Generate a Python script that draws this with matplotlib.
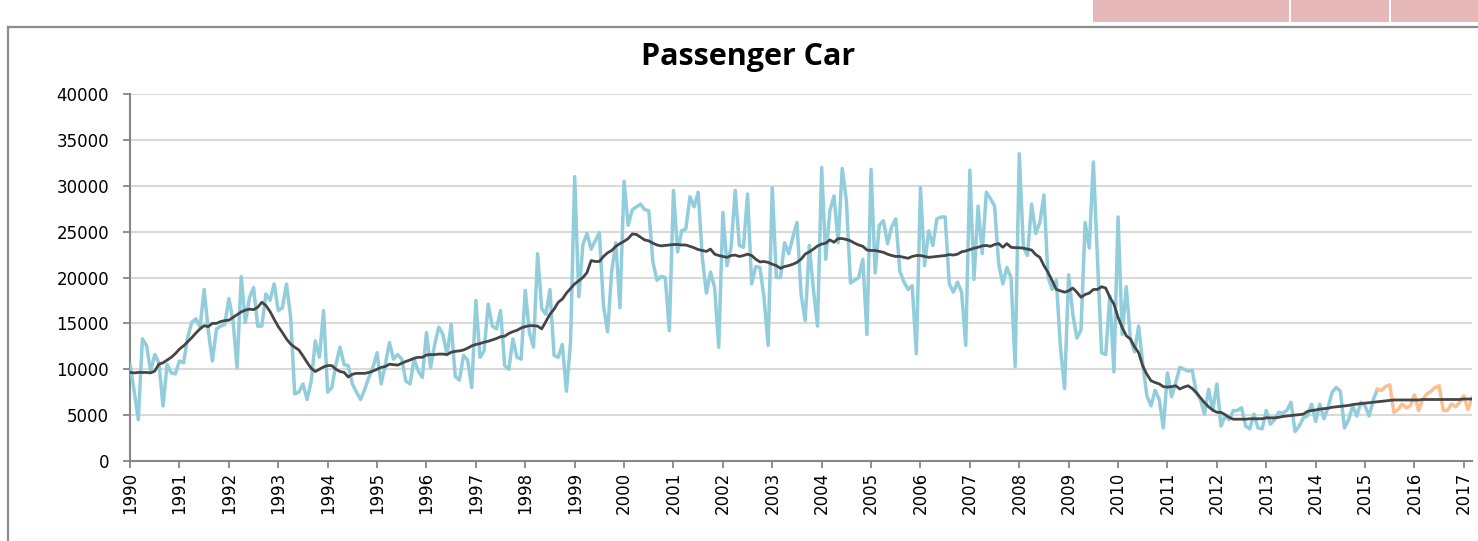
import matplotlib
matplotlib.use("Agg")
import matplotlib.pyplot as plt
from matplotlib.lines import Line2D
from matplotlib.patches import Rectangle
import numpy as np

# monthly registrations, Jan 1990 .. Apr 2015 (actual)
actual = [
    10500, 7600, 4500, 13300, 12600, 9800, 11600, 10700, 6000, 10500, 9600, 9500,        # 1990
    10900, 10700, 13500, 15100, 15500, 14600, 18700, 14200, 10900, 14400, 14700, 14900,  # 1991
    17700, 15300, 10200, 20100, 15100, 17800, 18900, 14700, 14700, 18200, 17500, 19300,  # 1992
    16400, 16700, 19300, 15700, 7300, 7500, 8400, 6700, 8700, 13100, 11300, 16400,       # 1993
    7500, 8000, 10500, 12400, 10500, 10400, 8400, 7500, 6700, 7800, 9100, 10200,         # 1994
    11800, 8400, 10500, 12900, 11100, 11600, 11100, 8700, 8400, 11100, 9800, 9100,       # 1995
    14000, 10200, 12700, 14600, 13800, 11600, 14900, 9200, 8800, 11500, 11000, 8000,     # 1996
    17500, 11300, 12000, 17100, 14700, 14400, 16400, 10400, 10000, 13300, 11300, 11100,  # 1997
    18600, 14000, 12400, 22600, 16600, 16000, 18700, 11500, 11300, 12700, 7600, 13000,   # 1998
    31000, 17900, 23600, 24800, 23100, 24000, 24900, 16900, 14100, 20700, 23800, 16700,  # 1999
    30500, 25700, 27400, 27700, 28000, 27400, 27300, 21700, 19700, 20100, 20000, 14200,  # 2000
    29500, 22800, 25100, 25300, 28800, 27700, 29300, 22200, 18300, 20600, 18900, 12400,  # 2001
    27100, 21300, 23300, 29500, 23500, 23300, 29100, 19300, 21200, 21100, 17800, 12600,  # 2002
    29800, 20000, 20000, 23800, 22600, 24400, 26000, 18200, 15300, 23500, 18700, 14700,  # 2003
    32000, 22000, 27300, 28900, 23800, 31900, 28400, 19400, 19700, 20000, 22000, 13800,  # 2004
    31800, 20500, 25700, 26200, 23700, 25500, 26400, 20700, 19500, 18700, 19100, 11700,  # 2005
    29800, 21300, 25100, 23500, 26400, 26600, 26600, 19300, 18400, 19500, 18400, 12600,  # 2006
    31700, 19800, 27800, 22600, 29300, 28600, 27800, 21500, 19300, 21100, 20000, 10300,  # 2007
    33500, 23300, 22400, 28000, 24800, 26000, 29000, 20000, 18700, 19700, 12400, 7900,   # 2008
    20300, 16000, 13400, 14300, 26000, 23200, 32600, 22000, 11800, 11600, 18000, 9700,   # 2009
    26600, 13800, 19000, 13300, 11900, 14700, 10600, 7100, 6000, 7700, 6700, 3600,       # 2010
    9600, 7000, 8500, 10200, 10000, 9800, 9900, 7500, 6700, 5100, 7800, 5500,            # 2011
    8400, 3800, 4900, 4500, 5500, 5500, 5800, 3800, 3500, 5100, 3600, 3500,              # 2012
    5500, 4000, 4500, 5300, 5200, 5500, 6400, 3200, 3800, 4700, 4900, 6200,              # 2013
    4300, 6200, 4600, 5800, 7500, 8000, 7600, 3600, 4500, 6000, 4900, 6400,              # 2014
    6000, 4900, 6700, 7800,                                                              # 2015
]

# forecast, Apr 2015 .. Mar 2017
forecast = [
    7800, 7700, 8100, 8300, 5300, 5600, 6200, 5800, 6000,
    7200, 5500, 6700, 7300, 7600, 8000, 8200, 5500, 5500, 6200, 5900, 6400,
    7100, 5600, 6900,
]

# trend line, Jan 1990 .. Mar 2017
trend = [
    9650, 9600, 9650, 9650, 9650, 9600, 9800, 10550, 10700, 11000, 11300, 11700,
    12200, 12550, 13000, 13450, 13950, 14400, 14750, 14650, 15000, 15000, 15200, 15300,
    15350, 15650, 15950, 16250, 16450, 16550, 16500, 16750, 17300, 16950, 16300, 15450,
    14650, 14000, 13300, 12750, 12400, 12100, 11450, 10750, 10100, 9750, 10000, 10250,
    10400, 10400, 10000, 9750, 9650, 9150, 9450, 9550, 9550, 9550, 9650, 9800,
    10000, 10200, 10300, 10550, 10500, 10450, 10650, 10850, 11000, 11200, 11300, 11300,
    11550, 11600, 11600, 11650, 11650, 11600, 11850, 11950, 12000, 12100, 12300, 12550,
    12700, 12800, 12950, 13050, 13200, 13350, 13550, 13600, 13900, 14100, 14250, 14500,
    14650, 14750, 14750, 14700, 14400, 15200, 16000, 16550, 17300, 17650, 18300, 18800,
    19300, 19650, 20000, 20550, 21850, 21750, 21750, 22300, 22700, 22950, 23400, 23700,
    23950, 24250, 24750, 24700, 24400, 24100, 24000, 23750, 23550, 23450, 23500, 23550,
    23600, 23600, 23550, 23550, 23400, 23250, 23050, 22950, 22850, 23100, 22550, 22400,
    22300, 22200, 22400, 22450, 22300, 22400, 22550, 22400, 22000, 21700, 21750, 21650,
    21450, 21300, 21000, 21200, 21300, 21450, 21650, 22000, 22550, 22800, 23100, 23450,
    23650, 23750, 24100, 23850, 24250, 24250, 24150, 24000, 23750, 23550, 23400, 23000,
    22950, 22950, 22850, 22750, 22550, 22400, 22300, 22300, 22200, 22100, 22300, 22400,
    22400, 22300, 22200, 22250, 22300, 22350, 22400, 22500, 22450, 22550, 22800, 22900,
    23050, 23200, 23300, 23450, 23500, 23400, 23600, 23700, 23300, 23700, 23300, 23250,
    23250, 23200, 23100, 23000, 22500, 22200, 21300, 20550, 19650, 18700, 18550, 18400,
    18550, 18850, 18400, 17850, 18150, 18300, 18700, 18700, 19000, 18850, 17850, 17100,
    15650, 14550, 13650, 13300, 12450, 11800, 10350, 9450, 8750, 8550, 8400, 8100,
    8050, 8100, 8200, 7850, 8050, 8200, 7900, 7450, 6900, 6350, 5900, 5550,
    5300, 5300, 5050, 4750, 4550, 4550, 4550, 4550, 4600, 4600, 4600, 4600,
    4700, 4700, 4700, 4750, 4850, 4900, 4950, 5000, 5050, 5100, 5400, 5500,
    5550, 5650, 5700, 5750, 5850, 5900, 5950, 6000, 6050, 6150, 6200, 6250,
    6300, 6350, 6400, 6450, 6500, 6550, 6600, 6650, 6650, 6650, 6650, 6650,
    6650, 6650, 6700, 6700, 6700, 6700, 6700, 6700, 6700, 6700, 6700, 6700,
    6750, 6750, 6750,
]

years = list(range(1990, 2018))
title = "Passenger Car"

t_all = 1990 + np.arange(len(trend)) / 12.0
t_act = t_all[:len(actual)]
t_fc = t_all[len(actual) - 1:len(actual) - 1 + len(forecast)]

fig = plt.figure(figsize=(14.78, 5.41), dpi=100)
ax = fig.add_axes([0.088, 0.148, 0.908, 0.678])

ax.plot(t_act, actual, color="#92CDDC", lw=2.5, solid_joinstyle="round", zorder=3)
ax.plot(t_fc, forecast, color="#FAC090", lw=2.5, solid_joinstyle="round", zorder=3)
ax.plot(t_all, trend, color="#454545", lw=2.0, zorder=4)

ax.set_xlim(1990, t_all[-1])
ax.set_ylim(0, 40000)
ax.set_yticks(range(0, 40001, 5000))
ax.set_xticks(years)
ax.set_xticklabels([str(y) for y in years], rotation=90)
ax.grid(axis="y", color="#d9d9d9", lw=1.5)
ax.set_axisbelow(True)

for s in ["top", "right"]:
    ax.spines[s].set_visible(False)
for s in ["left", "bottom"]:
    ax.spines[s].set_color("#868686")
    ax.spines[s].set_linewidth(1.5)
ax.tick_params(axis="both", colors="#868686", length=5, width=1.3,
               labelcolor="black", labelsize=12)
ax.tick_params(axis="y", pad=10)
ax.tick_params(axis="x", pad=3)
for lab in ax.get_xticklabels() + ax.get_yticklabels():
    lab.set_family("DejaVu Sans")

fig.text(0.506, 0.895, title, ha="center", va="center",
         fontsize=22, fontweight="bold", family="Open Sans")

# chart frame (spreadsheet object border) and header cells
H = 541.0
W = 1478.0
fig.add_artist(Line2D([8 / W, 1.0], [1 - 27 / H, 1 - 27 / H], color="#8c8c8c", lw=1.6))
fig.add_artist(Line2D([8 / W, 8 / W], [0.0, 1 - 27 / H], color="#8c8c8c", lw=1.6))
for x0, x1 in [(1093, 1289), (1291, 1389), (1391, 1478)]:
    fig.add_artist(Rectangle((x0 / W, 1 - 22 / H), (x1 - x0) / W, 22 / H,
                             facecolor="#E6B8B7", edgecolor="none"))

fig.savefig("out.png", dpi=100)
